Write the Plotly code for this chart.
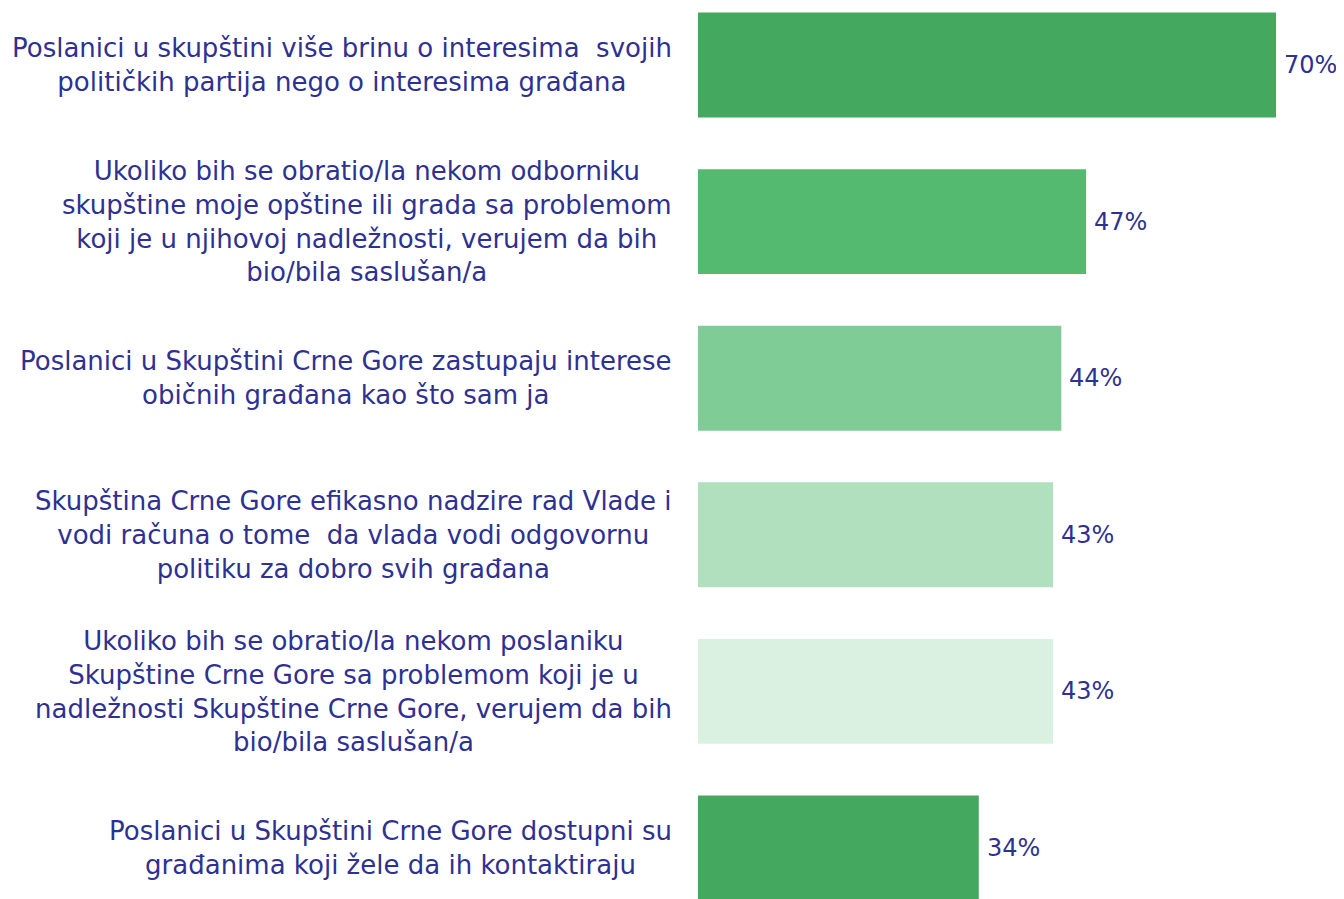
import plotly.graph_objects as go

categories = [
    ["Poslanici u skupštini više brinu o interesima  svojih",
     "političkih partija nego o interesima građana"],
    ["Ukoliko bih se obratio/la nekom odborniku",
     "skupštine moje opštine ili grada sa problemom",
     "koji je u njihovoj nadležnosti, verujem da bih",
     "bio/bila saslušan/a"],
    ["Poslanici u Skupštini Crne Gore zastupaju interese",
     "običnih građana kao što sam ja"],
    ["Skupština Crne Gore efikasno nadzire rad Vlade i",
     "vodi računa o tome  da vlada vodi odgovornu",
     "politiku za dobro svih građana"],
    ["Ukoliko bih se obratio/la nekom poslaniku",
     "Skupštine Crne Gore sa problemom koji je u",
     "nadležnosti Skupštine Crne Gore, verujem da bih",
     "bio/bila saslušan/a"],
    ["Poslanici u Skupštini Crne Gore dostupni su",
     "građanima koji žele da ih kontaktiraju"],
]
values = [70, 47, 44, 43, 43, 34]
colors = ["#44A85F", "#53BA6F", "#80CC97", "#B1E0BF", "#DAF0E1", "#44A85F"]

TEXT = "#2E3192"
FONT = "DejaVu Sans, Verdana, sans-serif"
positions = list(range(len(values)))

fig = go.Figure()
fig.add_trace(go.Bar(
    x=values, y=positions, orientation="h",
    marker=dict(color=colors, line=dict(width=0)),
    width=0.67, hoverinfo="skip",
))

for pos, v in zip(positions, values):
    fig.add_annotation(
        x=v, y=pos, xref="x", yref="y", text=f"{v}%", showarrow=False,
        xanchor="left", yanchor="middle", xshift=6,
        font=dict(family=FONT, size=24, color=TEXT),
    )

for pos, lines in zip(positions, categories):
    fig.add_annotation(
        x=0, y=pos, xref="paper", yref="y",
        text="<br>".join(lines), showarrow=False, align="center",
        xanchor="right", yanchor="middle", xshift=-24,
        font=dict(family=FONT, size=26, color=TEXT),
    )

fig.update_layout(
    width=1344, height=899,
    margin=dict(l=690, r=0, t=0, b=0),
    paper_bgcolor="white", plot_bgcolor="white",
    showlegend=False,
    xaxis=dict(range=[0, 79.2], visible=False),
    yaxis=dict(range=[5.377, -0.364], visible=False),
)
fig.write_html("out.html")
